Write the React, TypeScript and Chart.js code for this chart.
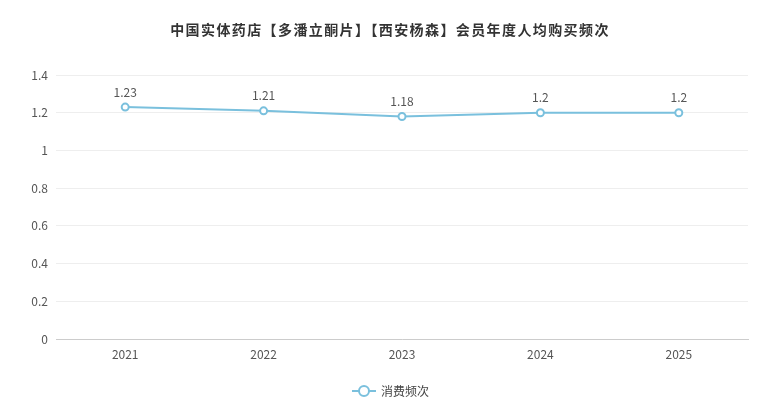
import React, { useEffect, useRef } from "react";
import { Chart, registerables } from "chart.js";

Chart.register(...registerables);

const years = ["2021", "2022", "2023", "2024", "2025"];
const frequency = [1.23, 1.21, 1.18, 1.2, 1.2];
const seriesName = "消费频次";
const titleText = "中国实体药店【多潘立酮片】【西安杨森】会员年度人均购买频次";

const FONT = "'Noto Sans CJK SC', 'Noto Sans', sans-serif";
const LINE_COLOR = "#7ac0dd";

const extrasPlugin = {
  id: "extras",
  afterDatasetsDraw(chart: any) {
    const { ctx } = chart;
    const meta = chart.getDatasetMeta(0);
    ctx.save();
    ctx.font = `12px ${FONT}`;
    ctx.fillStyle = "#555";
    ctx.textAlign = "center";
    ctx.textBaseline = "middle";
    meta.data.forEach((pt: any, i: number) => {
      ctx.fillText(String(frequency[i]), pt.x, pt.y - 15);
    });
    ctx.restore();
  },
  afterDraw(chart: any) {
    const { ctx, width } = chart;
    ctx.save();
    // title
    ctx.font = `bold 14px ${FONT}`;
    ctx.letterSpacing = "1.4px";
    ctx.fillStyle = "#333";
    ctx.textAlign = "center";
    ctx.textBaseline = "middle";
    ctx.fillText(titleText, width / 2, 30);
    ctx.letterSpacing = "0px";
    // legend
    const cx = 364;
    const cy = 391;
    ctx.strokeStyle = LINE_COLOR;
    ctx.lineWidth = 2;
    ctx.beginPath();
    ctx.moveTo(cx - 12, cy);
    ctx.lineTo(cx + 12, cy);
    ctx.stroke();
    ctx.beginPath();
    ctx.arc(cx, cy, 5, 0, Math.PI * 2);
    ctx.fillStyle = "#fff";
    ctx.fill();
    ctx.stroke();
    ctx.font = `12px ${FONT}`;
    ctx.fillStyle = "#444";
    ctx.textAlign = "left";
    ctx.fillText(seriesName, cx + 17, cy);
    ctx.restore();
  },
};

const App = () => {
  const canvasRef = useRef<HTMLCanvasElement | null>(null);

  useEffect(() => {
    document.body.style.margin = "0";
    if (!canvasRef.current) return;
    const ctx = canvasRef.current.getContext("2d");
    if (!ctx) return;

    const chart = new Chart(ctx, {
      type: "line",
      data: {
        labels: years,
        datasets: [
          {
            label: seriesName,
            data: frequency,
            borderColor: LINE_COLOR,
            borderWidth: 2,
            backgroundColor: "#fff",
            pointBackgroundColor: "#fff",
            pointBorderColor: LINE_COLOR,
            pointBorderWidth: 2,
            pointRadius: 3.5,
            tension: 0,
          },
        ],
      },
      options: {
        responsive: false,
        animation: false,
        layout: { padding: { top: 75, right: 32, bottom: 0, left: 0 } },
        plugins: {
          legend: { display: false },
          title: { display: false },
          tooltip: { enabled: false },
        },
        scales: {
          x: {
            offset: true,
            grid: { display: false, drawTicks: false },
            border: { display: true, color: "#ccc" },
            ticks: { color: "#555", font: { size: 12, family: FONT }, padding: 8 },
            afterFit: (scale: any) => {
              scale.height = 61;
            },
          },
          y: {
            min: 0,
            max: 1.4,
            grid: { color: "#eee", drawTicks: false },
            border: { display: false },
            ticks: {
              stepSize: 0.2,
              color: "#555",
              padding: 8,
              font: { size: 12, family: FONT },
              callback: (v: any) => String(Math.round(Number(v) * 10) / 10),
            },
            afterFit: (scale: any) => {
              scale.width = 56;
            },
          },
        },
      },
      plugins: [extrasPlugin],
    });

    return () => {
      chart.destroy();
    };
  }, []);

  return <canvas ref={canvasRef} width={780} height={400} style={{ display: "block" }} />;
};

export default App;
